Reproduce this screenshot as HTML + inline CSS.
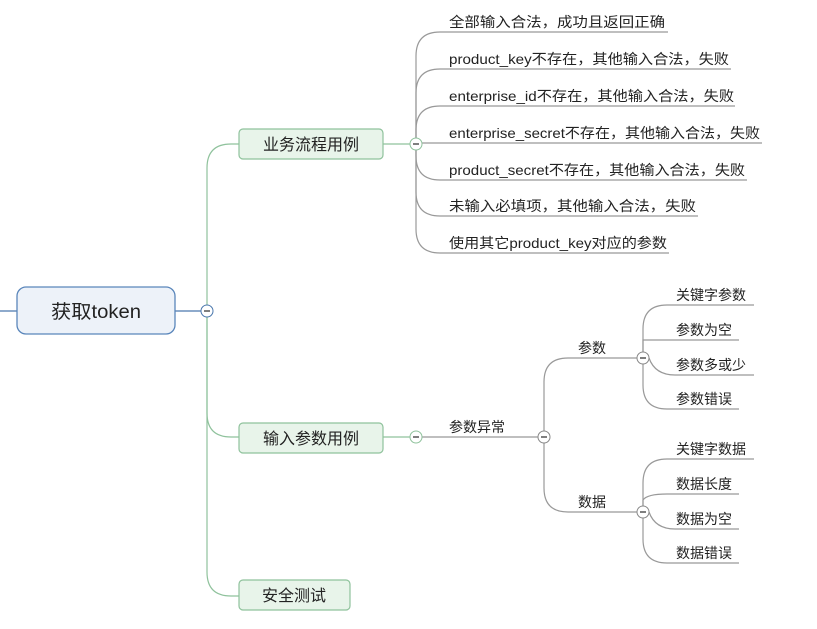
<!DOCTYPE html>
<html><head><meta charset="utf-8"><style>
html,body{margin:0;padding:0;background:#fff;width:817px;height:629px;overflow:hidden}
text{font-family:"Liberation Sans","Noto Sans CJK SC",sans-serif;fill:#222}
</style></head><body>
<svg width="817" height="629" viewBox="0 0 817 629" xmlns="http://www.w3.org/2000/svg">
<g fill="none" stroke-width="1.2">
<path d="M0 311H17M175 311H201" stroke="#4a77ad"/>
<g stroke="#8fc29c">
<path d="M207 305V168Q207 144 231 144H239"/>
<path d="M207 317V572Q207 596 231 596H239"/>
<path d="M207 317V413Q207 437 231 437H239"/>
<path d="M383 144H410M383 437H410"/>
</g>
<g stroke="#999">
<path d="M416 138V56Q416 32 440 32H668"/>
<path d="M416 138V93Q416 69 440 69H731"/>
<path d="M416 138V130Q416 106 440 106H735"/>
<path d="M422 143H762"/>
<path d="M416 150V156Q416 180 440 180H747"/>
<path d="M416 150V192Q416 216 440 216H698"/>
<path d="M416 150V229Q416 253 440 253H669"/>
<path d="M422 437H538"/>
<path d="M544 431V382Q544 358 568 358H637"/>
<path d="M544 443V488Q544 512 568 512H637"/>
<path d="M643 352V329Q643 305 667 305H754"/>
<path d="M643 352V340Q647 340 667 340H739"/>
<path d="M649 358Q655 375 675 375H754"/>
<path d="M643 364V385Q643 409 667 409H739"/>
<path d="M643 506V483Q643 459 667 459H754"/>
<path d="M643 506V500Q647 494 667 494H739"/>
<path d="M649 512Q655 529 675 529H739"/>
<path d="M643 518V539Q643 563 667 563H739"/>
</g>
</g>
<rect x="17" y="287" width="158" height="47" rx="9" fill="#edf2f9" stroke="#5a86bb" stroke-width="1.3"/>
<text x="96" y="318" font-size="19" text-anchor="middle" textLength="90" lengthAdjust="spacingAndGlyphs">获取token</text>
<g fill="#e8f4ea" stroke="#8fc29c" stroke-width="1.2">
<rect x="239" y="129" width="144" height="30" rx="4"/>
<rect x="239" y="423" width="144" height="30" rx="4"/>
<rect x="239" y="580" width="111" height="30" rx="4"/>
</g>
<g font-size="16">
<text x="311" y="150" text-anchor="middle">业务流程用例</text>
<text x="311" y="444" text-anchor="middle">输入参数用例</text>
<text x="294" y="601" text-anchor="middle">安全测试</text>
</g>
<g fill="#fff" stroke-width="1">
<circle cx="207" cy="311" r="6" stroke="#4a77ad"/>
<circle cx="416" cy="144" r="6" stroke="#8fc29c"/>
<circle cx="416" cy="437" r="6" stroke="#8fc29c"/>
<circle cx="544" cy="437" r="6" stroke="#888"/>
<circle cx="643" cy="358" r="6" stroke="#888"/>
<circle cx="643" cy="512" r="6" stroke="#888"/>
</g>
<g stroke="#333" stroke-width="1.2">
<path d="M204 311h6M413 144h6M413 437h6M541 437h6M640 358h6M640 512h6"/>
</g>
<g font-size="14" lengthAdjust="spacingAndGlyphs">
<text x="449" y="27" textLength="216" lengthAdjust="spacingAndGlyphs">全部输入合法，成功且返回正确</text>
<text x="449" y="64" textLength="280" lengthAdjust="spacingAndGlyphs">product_key不存在，其他输入合法，失败</text>
<text x="449" y="101" textLength="285" lengthAdjust="spacingAndGlyphs">enterprise_id不存在，其他输入合法，失败</text>
<text x="449" y="138" textLength="311" lengthAdjust="spacingAndGlyphs">enterprise_secret不存在，其他输入合法，失败</text>
<text x="449" y="175" textLength="296" lengthAdjust="spacingAndGlyphs">product_secret不存在，其他输入合法，失败</text>
<text x="449" y="211" textLength="247" lengthAdjust="spacingAndGlyphs">未输入必填项，其他输入合法，失败</text>
<text x="449" y="248" textLength="218" lengthAdjust="spacingAndGlyphs">使用其它product_key对应的参数</text>
<text x="449" y="432">参数异常</text>
<text x="578" y="353">参数</text>
<text x="578" y="507">数据</text>
<text x="676" y="300">关键字参数</text>
<text x="676" y="335">参数为空</text>
<text x="676" y="370">参数多或少</text>
<text x="676" y="404">参数错误</text>
<text x="676" y="454">关键字数据</text>
<text x="676" y="489">数据长度</text>
<text x="676" y="524">数据为空</text>
<text x="676" y="558">数据错误</text>
</g>
</svg>
</body></html>
